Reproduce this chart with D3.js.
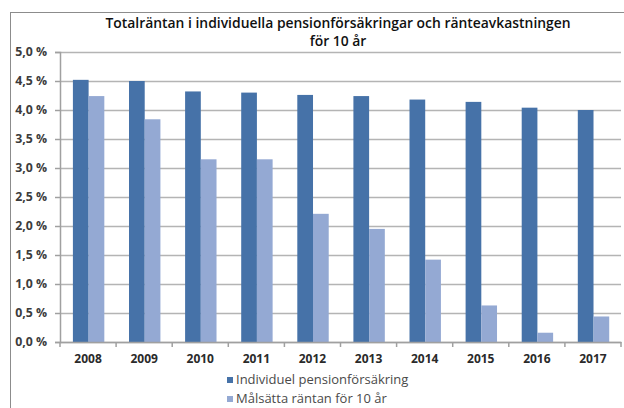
<!DOCTYPE html>
<html>
<head>
<meta charset="utf-8">
<script src="https://cdn.jsdelivr.net/npm/d3@7"></script>
<style>
  body { margin: 0; background: #fff; }
  text { font-family: "Open Sans", "DejaVu Sans", sans-serif; }
</style>
</head>
<body>
<div id="container"></div>
<script>
    const years = ['2008', '2009', '2010', '2011', '2012', '2013', '2014', '2015', '2016', '2017'];
    const individuel = [4.52, 4.50, 4.32, 4.30, 4.26, 4.24, 4.18, 4.14, 4.04, 4.00];
    const malsatta = [4.24, 3.84, 3.15, 3.15, 2.21, 1.95, 1.42, 0.63, 0.16, 0.44];
    const seriesNames = ['Individuel pensionförsäkring', 'Målsätta räntan för 10 år'];
    const seriesColors = ['#4672a8', '#94a9d3'];
    const yTicks = [0, 0.5, 1, 1.5, 2, 2.5, 3, 3.5, 4, 4.5, 5];
    const titleLines = ['Totalräntan i individuella pensionförsäkringar och ränteavkastningen', 'för 10 år'];

    const W = 624, H = 408;
    const plot = { left: 60, right: 621, top: 52, bottom: 342 };

    const svg = d3.select('#container').append('svg')
      .attr('width', W)
      .attr('height', H);

    // outer chart border (only top and left visible in the crop)
    svg.append('rect')
      .attr('x', 10.5).attr('y', 12.5)
      .attr('width', W + 20).attr('height', H + 20)
      .attr('fill', 'none')
      .attr('stroke', '#8c8c8c')
      .attr('stroke-width', 1);

    const x0 = d3.scaleBand()
      .domain(years)
      .range([plot.left, plot.right])
      .padding(0);

    const x1 = d3.scaleBand()
      .domain([0, 1])
      .range([x0.bandwidth() * 0.23, x0.bandwidth() * 0.79]);

    const y = d3.scaleLinear()
      .domain([0, 5])
      .range([plot.bottom, plot.top]);

    // horizontal grid lines
    svg.append('g')
      .attr('class', 'grid')
      .attr('transform', `translate(${plot.left},0)`)
      .call(d3.axisLeft(y)
        .tickValues(yTicks)
        .tickSize(-(plot.right - plot.left))
        .tickFormat(''))
      .call(g => g.select('.domain').remove())
      .call(g => g.selectAll('line').attr('stroke', '#b4b4b4').attr('stroke-width', 1.5));

    // y axis with short ticks and labels
    svg.append('g')
      .attr('transform', `translate(${plot.left},0)`)
      .call(d3.axisLeft(y)
        .tickValues(yTicks)
        .tickSize(5)
        .tickPadding(8)
        .tickFormat(d => d3.format('.1f')(d).replace('.', ',') + ' %'))
      .call(g => g.select('.domain').attr('stroke', '#a0a0a0').attr('stroke-width', 1.5))
      .call(g => g.selectAll('line').attr('stroke', '#a0a0a0').attr('stroke-width', 1.5))
      .call(g => g.selectAll('text')
        .attr('fill', '#3c3c3c')
        .attr('font-size', 12.3)
        .attr('font-weight', 'bold')
        .style('font-family', '"Open Sans", sans-serif'));

    const data = years.map((yr, i) => ({ year: yr, values: [individuel[i], malsatta[i]] }));

    const groups = svg.append('g')
      .selectAll('g')
      .data(data)
      .enter()
      .append('g')
      .attr('transform', d => `translate(${x0(d.year)},0)`);

    groups.selectAll('rect')
      .data(d => d.values.map((v, k) => ({ k, v })))
      .enter()
      .append('rect')
      .attr('x', d => x1(d.k))
      .attr('y', d => y(d.v))
      .attr('width', x1.bandwidth())
      .attr('height', d => y(0) - y(d.v))
      .attr('fill', d => seriesColors[d.k]);

    // x axis
    svg.append('g')
      .attr('transform', `translate(0,${plot.bottom})`)
      .call(d3.axisBottom(x0).tickSize(0).tickPadding(12))
      .call(g => g.select('.domain').attr('stroke', '#a0a0a0').attr('stroke-width', 1.5))
      .call(g => g.selectAll('text')
        .attr('fill', '#2a2a2a')
        .attr('font-size', 12)
        .attr('font-weight', 'bold')
        .style('font-family', '"Open Sans", sans-serif'));

    // x tick marks at the category boundaries
    svg.append('g')
      .selectAll('line')
      .data(years.concat(['end']))
      .enter()
      .append('line')
      .attr('x1', (d, i) => i < years.length ? x0(d) : plot.right)
      .attr('x2', (d, i) => i < years.length ? x0(d) : plot.right)
      .attr('y1', plot.bottom)
      .attr('y2', plot.bottom + 5)
      .attr('stroke', '#a0a0a0')
      .attr('stroke-width', 1.5);

    // title, two separate lines
    svg.append('g')
      .selectAll('text')
      .data(titleLines)
      .enter()
      .append('text')
      .attr('x', 338)
      .attr('y', (d, i) => 28 + i * 18)
      .attr('text-anchor', 'middle')
      .attr('font-size', 13.9)
      .attr('font-weight', 600)
      .attr('fill', '#111')
      .text(d => d);

    // legend
    const legend = svg.append('g')
      .selectAll('g')
      .data(seriesNames)
      .enter()
      .append('g')
      .attr('transform', (d, i) => `translate(227,${377 + i * 19})`);

    legend.append('rect')
      .attr('width', 6).attr('height', 6)
      .attr('fill', (d, i) => seriesColors[i]);

    legend.append('text')
      .attr('x', 9)
      .attr('y', 6.5)
      .attr('font-size', 13)
      .attr('fill', '#4a4a4a')
      .text(d => d);
</script>
</body>
</html>
